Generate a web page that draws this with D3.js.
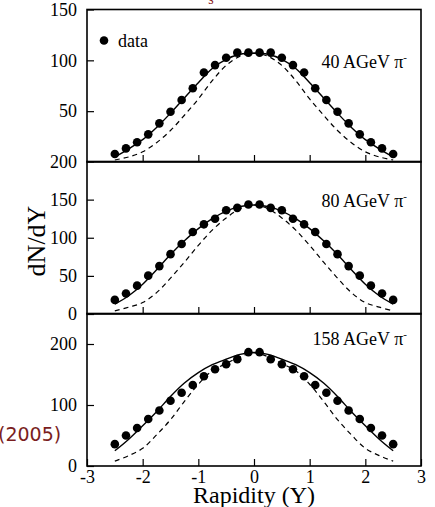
<!DOCTYPE html>
<html>
<head>
<meta charset="utf-8">
<script src="https://cdn.jsdelivr.net/npm/d3@7"></script>
<style>
body { margin: 0; background: #fff; }
svg { display: block; }
</style>
</head>
<body>
<svg id="chart"></svg>
<script>
// size of the page
var width = 435;
var height = 507;

// rapidity of the data points
var rapidity = [-2.5, -2.3, -2.1, -1.9, -1.7, -1.5, -1.3, -1.1, -0.9, -0.7, -0.5, -0.3, -0.1,
	0.1, 0.3, 0.5, 0.7, 0.9, 1.1, 1.3, 1.5, 1.7, 1.9, 2.1, 2.3, 2.5];

// measured dN/dY for each beam energy
var data40 = [7.8, 13.4, 19.4, 27.2, 38, 49.5, 61, 72.6, 88, 95.3, 102.6, 107.6, 107.6,
	107.6, 107.6, 102.6, 95.3, 88, 72.6, 61, 49.5, 38, 27.2, 19.4, 13.4, 7.8];
var data80 = [18.5, 26.8, 37.2, 50.3, 62.8, 78.5, 91.9, 107.6, 117.6, 125, 136, 139.2, 143.6,
	143.6, 139.2, 136, 125, 117.6, 107.6, 91.9, 78.5, 62.8, 50.3, 37.2, 26.8, 18.5];
var data158 = [35.8, 50.1, 62.2, 77.1, 90.9, 106.9, 120.1, 132.8, 147.1, 158.7, 166.9, 175.2, 186.6,
	186.6, 175.2, 166.9, 158.7, 147.1, 132.8, 120.1, 106.9, 90.9, 77.1, 62.2, 50.1, 35.8];

// model curves, read at these rapidities
var curveY = [-2.5, -2.25, -2, -1.75, -1.5, -1.25, -1, -0.75, -0.5, -0.25, 0,
	0.25, 0.5, 0.75, 1, 1.25, 1.5, 1.75, 2, 2.25, 2.5];
var fit40 = [5, 13, 22, 34, 48, 63, 78, 92, 101, 106, 107, 106, 101, 92, 78, 63, 48, 34, 22, 13, 5];
var dash40 = [2, 5, 10, 19, 31, 46, 62, 80, 95, 104, 107, 104, 95, 80, 62, 46, 31, 19, 10, 5, 2];
var fit80 = [13, 24, 39, 58, 78, 96, 112, 125, 135, 141, 143, 141, 135, 125, 112, 96, 78, 58, 39, 24, 13];
var dash80 = [4, 9, 15, 28, 47, 68, 90, 110, 126, 138, 143, 138, 126, 110, 90, 68, 47, 28, 15, 9, 4];
var fit158 = [25, 44, 66, 89, 114, 136, 153, 166, 175, 183, 186, 183, 175, 166, 153, 136, 114, 89, 66, 44, 25];
var dash158 = [8, 17, 29, 51, 76, 106, 134, 156, 168, 179, 186, 179, 168, 156, 134, 106, 76, 51, 29, 17, 8];

var panelLabels = ['40 AGeV π', '80 AGeV π', '158 AGeV π'];
var yMax = [150, 200, 250];
var yTicks = [[50, 100, 150], [0, 50, 100, 150, 200], [0, 100, 200]];
var xTicks = [-3, -2, -1, 0, 1, 2, 3];

var panels = [
	{ label: panelLabels[0], max: yMax[0], ticks: yTicks[0], pts: data40, fit: fit40, dash: dash40 },
	{ label: panelLabels[1], max: yMax[1], ticks: yTicks[1], pts: data80, fit: fit80, dash: dash80 },
	{ label: panelLabels[2], max: yMax[2], ticks: yTicks[2], pts: data158, fit: fit158, dash: dash158 }
];

var serif = '"Liberation Serif", "Times New Roman", serif';

var svg = d3.select('#chart')
	.attr('width', width)
	.attr('height', height);

var left = 87, right = 421;
var panelTop = [9.5, 161.5, 313.5];
var panelH = 152.5;

var x = d3.scaleLinear().domain([-3, 3]).range([left, right]);

panels.forEach(function(p, i) {
	var top = panelTop[i];
	var y = d3.scaleLinear().domain([0, p.max]).range([top + panelH, top]);
	var g = svg.append('g');

	// y axis, ticks point inward
	var ya = g.append('g')
		.attr('transform', 'translate(' + left + ',0)')
		.call(d3.axisLeft(y).tickValues(p.ticks).tickSize(-7).tickPadding(10).tickFormat(d3.format('d')));
	ya.select('.domain').remove();
	ya.selectAll('text').attr('font-family', serif).attr('font-size', 18).attr('fill', '#000');
	ya.selectAll('line').attr('stroke', '#000').attr('stroke-width', 1.2);

	// x axis along the bottom of each panel
	var last = i === panels.length - 1;
	var xa = g.append('g')
		.attr('transform', 'translate(0,' + (top + panelH) + ')')
		.call(d3.axisBottom(x)
			.tickValues(last ? xTicks : xTicks.slice(1, -1))
			.tickSize(-7)
			.tickPadding(4)
			.tickFormat(last ? function(d) { return String(d); } : ''));
	xa.select('.domain').remove();
	xa.selectAll('text').attr('font-family', serif).attr('font-size', 18).attr('fill', '#000');
	xa.selectAll('line').attr('stroke', '#000').attr('stroke-width', 1.2);

	var line = d3.line()
		.x(function(d) { return x(d[0]); })
		.y(function(d) { return y(d[1]); })
		.curve(d3.curveCatmullRom);

	g.append('path')
		.datum(d3.zip(curveY, p.dash))
		.attr('d', line)
		.attr('fill', 'none')
		.attr('stroke', '#000')
		.attr('stroke-width', 1.2)
		.attr('stroke-dasharray', '5,4');

	g.append('path')
		.datum(d3.zip(curveY, p.fit))
		.attr('d', line)
		.attr('fill', 'none')
		.attr('stroke', '#000')
		.attr('stroke-width', 1.4);

	g.selectAll('circle')
		.data(d3.zip(rapidity, p.pts))
		.enter().append('circle')
		.attr('cx', function(d) { return x(d[0]); })
		.attr('cy', function(d) { return y(d[1]); })
		.attr('r', 4.3)
		.attr('fill', '#000');

	// frame
	g.append('rect')
		.attr('x', left)
		.attr('y', top)
		.attr('width', right - left)
		.attr('height', panelH)
		.attr('fill', 'none')
		.attr('stroke', '#000')
		.attr('stroke-width', 1.6);

	var lab = g.append('text')
		.attr('x', 407)
		.attr('y', top + [58.5, 45.5, 31.5][i])
		.attr('text-anchor', 'end')
		.attr('font-family', serif)
		.attr('font-size', 18)
		.text(p.label);
	lab.append('tspan')
		.attr('dy', -7)
		.attr('font-size', 11)
		.text('-');
});

// legend
svg.append('circle').attr('cx', 104).attr('cy', 40.5).attr('r', 4.3).attr('fill', '#000');
svg.append('text')
	.attr('x', 118).attr('y', 46.5)
	.attr('font-family', serif).attr('font-size', 18)
	.text('data');

// axis titles
svg.append('text')
	.attr('transform', 'translate(45,241) rotate(-90)')
	.attr('text-anchor', 'middle')
	.attr('font-family', serif).attr('font-size', 26)
	.text('dN/dY');

svg.append('text')
	.attr('x', 254).attr('y', 503)
	.attr('text-anchor', 'middle')
	.attr('font-family', serif).attr('font-size', 24)
	.text('Rapidity (Y)');

// bits of the surrounding slide
svg.append('text')
	.attr('x', -2).attr('y', 441)
	.attr('font-family', '"DejaVu Sans", sans-serif').attr('font-size', 19)
	.attr('fill', '#7a1e1e')
	.text('(2005)');

svg.append('text')
	.attr('x', 211).attr('y', 4)
	.attr('text-anchor', 'middle')
	.attr('font-family', serif).attr('font-size', 14)
	.attr('fill', '#8b1a1a')
	.text('s');
</script>
</body>
</html>
